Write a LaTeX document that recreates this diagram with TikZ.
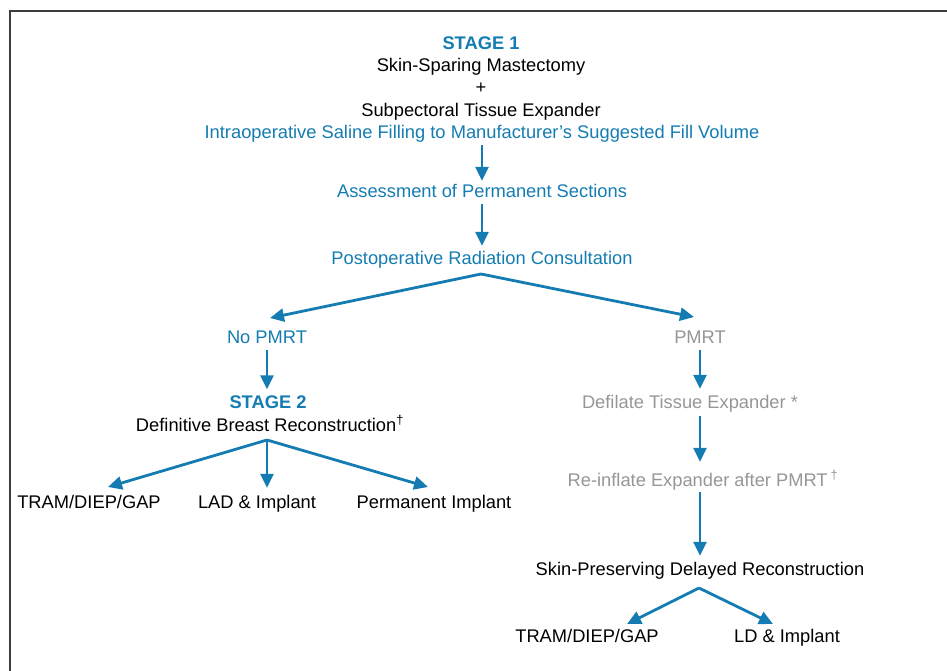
\documentclass[tikz,border=0pt]{standalone}
\usepackage{fontspec}
\setmainfont{Liberation Sans}
\usetikzlibrary{arrows.meta}
\definecolor{cblue}{RGB}{20,124,178}
\definecolor{cgray}{RGB}{150,150,150}
\definecolor{cframe}{RGB}{60,60,60}
\begin{document}
\begin{tikzpicture}[x=1pt,y=-1pt,
  txt/.style={inner sep=0pt,anchor=base,text height=13pt,text depth=4pt,
    font=\fontsize{18.3}{21}\selectfont,text=black},
  btxt/.style={txt,text=cblue},
  gtxt/.style={txt,text=cgray},
  hdr/.style={txt,text=cblue,font=\fontsize{18.3}{21}\selectfont\bfseries},
  arr/.style={draw=cblue,line width=2.8pt,-{Triangle[length=14pt,width=13pt]}}]
\useasboundingbox (0,0) rectangle (947,671);
\draw[cframe,line width=1.8pt] (10,671) -- (10,11) -- (947,11);
% stage 1
\node[hdr] (s1) at (481,50) {STAGE 1};
\node[txt] (ssm) at (481,72) {Skin-Sparing Mastectomy};
\node[txt] (plus) at (481,94) {+};
\node[txt] (ste) at (481,117) {Subpectoral Tissue Expander};
\node[btxt] (intra) at (482,139) {Intraoperative Saline Filling to Manufacturer’s Suggested Fill Volume};
\node[btxt] (assess) at (482,197) {Assessment of Permanent Sections};
\node[btxt] (consult) at (482,264) {Postoperative Radiation Consultation};
\node[btxt] (nopmrt) at (267,343) {No PMRT};
\node[gtxt] (pmrt) at (700,343) {PMRT};
% stage 2
\node[hdr] (s2) at (268,408.5) {STAGE 2};
\node[txt] (dbr) at (270,431) {Definitive Breast Reconstruction\textsuperscript{†}};
\node[txt] (tram1) at (89,508) {TRAM/DIEP/GAP};
\node[txt] (lad) at (257,508) {LAD \& Implant};
\node[txt] (perm) at (434,508) {Permanent Implant};
% right column
\node[gtxt] (defl) at (690,408) {Defilate Tissue Expander *};
\node[gtxt] (reinf) at (703,486) {Re-inflate Expander after PMRT\,\textsuperscript{†}};
\node[txt] (spdr) at (700,575) {Skin-Preserving Delayed Reconstruction};
\node[txt] (tram2) at (587,642) {TRAM/DIEP/GAP};
\node[txt] (ldi) at (787,642) {LD \& Implant};
% junctions and arrow ends
\coordinate (c1) at (481,274);
\coordinate (c2) at (267,440);
\coordinate (c3) at (699,588);
\coordinate (t1) at (270,318);
\coordinate (t2) at (694,317);
\coordinate (t3) at (108,487);
\coordinate (t4) at (428,487);
\coordinate (t5) at (627,624);
\coordinate (t6) at (773,624);
% vertical connectors
\draw[arr,shorten <=2pt,shorten >=3pt] (intra.south) -- (intra.south |- assess.north);
\draw[arr,shorten <=3pt,shorten >=5pt] (assess.south) -- (assess.south |- consult.north);
\draw[arr,shorten <=3pt,shorten >=6pt] (nopmrt.south) -- (nopmrt.south |- s2.north);
\draw[arr,shorten <=3pt,shorten >=6pt] (pmrt.south) -- (pmrt.south |- defl.north);
\draw[arr,shorten <=4pt,shorten >=11pt] (pmrt.south |- defl.south) -- (pmrt.south |- reinf.north);
\draw[arr,shorten <=2pt,shorten >=6pt] (pmrt.south |- reinf.south) -- (pmrt.south |- spdr.north);
\draw[arr,shorten >=7pt] (c2) -- (c2 |- lad.north);
% fork connectors
\draw[arr] (c1) -- (t1);
\draw[arr] (c1) -- (t2);
\draw[arr] (c2) -- (t3);
\draw[arr] (c2) -- (t4);
\draw[arr] (c3) -- (t5);
\draw[arr] (c3) -- (t6);
\end{tikzpicture}
\end{document}
